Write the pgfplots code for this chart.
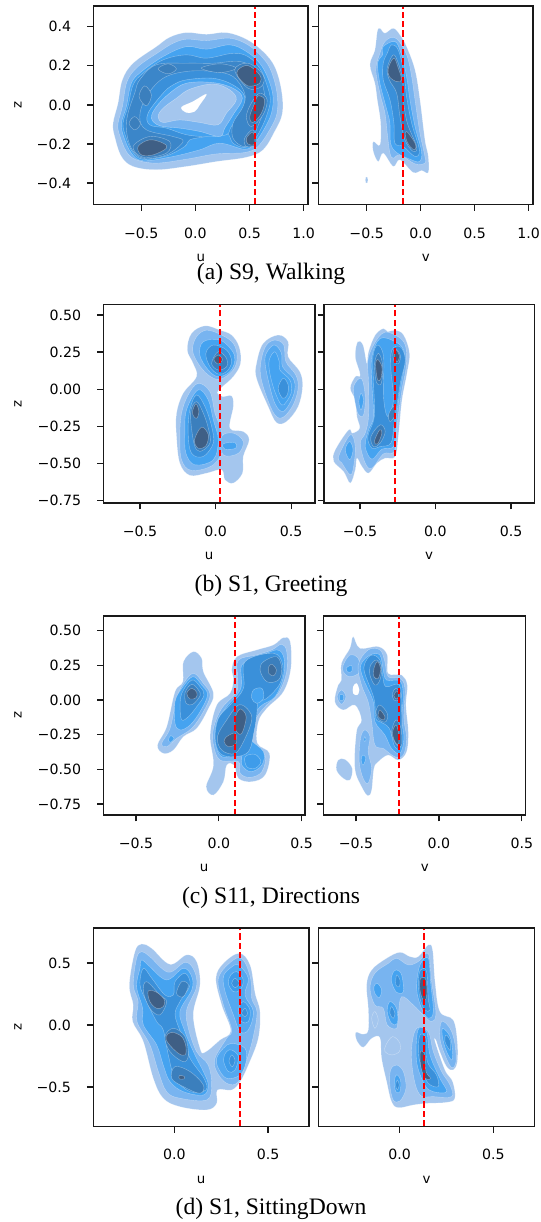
\documentclass[border=0pt]{standalone}
\usepackage{fontspec}
\setmainfont{Liberation Serif}
\newfontfamily\dv{DejaVu Sans}
\usepackage{pgfplots}
\pgfplotsset{compat=1.18}
\definecolor{ca}{HTML}{A4C6EE}
\definecolor{cb}{HTML}{78B4F0}
\definecolor{cc}{HTML}{45A3F0}
\definecolor{cd}{HTML}{3E9CEA}
\definecolor{ce}{HTML}{3A90DA}
\definecolor{cf}{HTML}{3B7FBD}
\definecolor{cg}{HTML}{3F5F85}
\newcommand\lv[2]{\addplot[smooth cycle,tension=.6,fill=#1,draw=white,draw opacity=.4,line width=.3pt] coordinates {#2};}
\newcommand\rl[3]{\addplot[color={rgb,255:red,255;green,0;blue,0},line width=1.5pt,dash pattern=on 4.6pt off 2.4pt] coordinates {(#1,#2)(#1,#3)};}
\pgfplotsset{pan/.style={scale only axis,axis on top,
  axis line style={line width=1.05pt,black!90},
  tick align=outside,tick pos=lower,major tick length=4.8pt,
  every tick/.style={line width=1pt,black!90},
  tick label style={font=\dv\fontsize{10.6}{12}\selectfont},
  xticklabel style={yshift=-9pt},
  yticklabel style={xshift=-8.5pt},
  xlabel style={font=\dv\fontsize{10}{12}\selectfont,at={(axis description cs:.5,0)},anchor=center,yshift=-40pt},
  ylabel style={font=\dv\fontsize{10}{12}\selectfont,at={(axis description cs:0,.5)},anchor=center}}}
\begin{document}
\begin{tikzpicture}
\path[use as bounding box] (0,0) rectangle (405pt,916.5pt);
% ---------- (a) left
\begin{axis}[pan,at={(70.1pt,763.1pt)},anchor=south west,width=160.9pt,height=148.9pt,
 xmin=-.941,xmax=1.04,ymin=-.51,ymax=.506,xtick={-.5,0,.5,1},xticklabels={−0.5,0.0,0.5,1.0},
 ytick={-.4,-.2,0,.2,.4},yticklabels={−0.4,−0.2,0.0,0.2,0.4},xlabel={u},ylabel={z},ylabel style={yshift=56.6pt}]
\lv{ca}{(-.083,.37)(.102,.361)(.286,.37)(.471,.336)(.625,.273)(.732,.196)(.794,.077)(.803,-.043)(.732,-.136)(.625,-.23)(.471,-.268)(.194,-.29)(-.083,-.315)(-.36,-.332)(-.575,-.315)(-.683,-.264)(-.745,-.162)(-.76,-.094)(-.714,.009)(-.674,.128)(-.575,.213)(-.36,.298)(-.237,.346)}
\lv{cb}{(-.083,.336)(.102,.329)(.317,.341)(.486,.307)(.625,.239)(.702,.17)(.754,.06)(.754,-.043)(.686,-.128)(.578,-.213)(.455,-.244)(.194,-.251)(-.083,-.278)(-.36,-.298)(-.545,-.281)(-.637,-.239)(-.705,-.145)(-.714,-.094)(-.674,-.009)(-.631,.119)(-.529,.196)(-.329,.273)(-.206,.315)}
\lv{cc}{(-.083,.298)(.102,.285)(.317,.307)(.471,.273)(.594,.213)(.671,.136)(.717,.043)(.702,-.043)(.64,-.119)(.548,-.196)(.455,-.227)(.225,-.196)(.04,-.23)(-.206,-.264)(-.483,-.286)(-.591,-.247)(-.662,-.162)(-.683,-.094)(-.637,-.009)(-.591,.111)(-.498,.17)(-.298,.247)}
\lv{ce}{(-.083,.256)(.102,.239)(.348,.264)(.486,.247)(.594,.188)(.655,.111)(.692,.026)(.655,-.06)(.594,-.136)(.532,-.188)(.455,-.218)(.348,-.196)(.286,-.145)(.102,-.162)(-.052,-.179)(-.098,-.213)(-.268,-.261)(-.483,-.278)(-.582,-.239)(-.643,-.162)(-.668,-.094)(-.622,-.009)(-.575,.102)(-.483,.162)(-.298,.23)}
\lv{cc}{(-.083,.128)(.163,.136)(.348,.102)(.455,.043)(.425,-.043)(.332,-.111)(.286,-.153)(.102,-.162)(-.083,-.153)(-.268,-.119)(-.422,-.102)(-.437,-.043)(-.298,.06)(-.206,.102)}
\lv{cb}{(-.083,.111)(.163,.114)(.348,.085)(.434,.034)(.348,-.051)(.271,-.119)(.225,-.162)(.04,-.136)(-.145,-.119)(-.329,-.107)(-.406,-.068)(-.36,-.009)(-.237,.06)}
\lv{ca}{(-.052,.08)(.163,.107)(.317,.077)(.378,.026)(.286,-.043)(.209,-.102)(.04,-.09)(-.145,-.077)(-.298,-.09)(-.345,-.06)(-.298,-.017)(-.175,.034)}
\lv{white}{(-.129,-.012)(-.022,.017)(.102,.055)(.04,0)(-.006,-.034)(-.083,-.039)}
\lv{cf!60!ce}{(-.514,.128)(-.36,.205)(-.083,.213)(.163,.213)(.409,.222)(.563,.179)(.625,.094)(.64,-.009)(.563,-.128)(.517,-.196)(.44,-.213)(.348,-.171)(.348,-.094)(.44,-.009)(.455,.06)(.348,.145)(.163,.171)(-.083,.171)(-.298,.136)(-.452,.043)(-.514,-.06)(-.452,-.128)(-.206,-.162)(-.114,-.188)(-.268,-.256)(-.483,-.273)(-.591,-.222)(-.637,-.128)(-.622,-.043)(-.56,.06)}
\lv{cf}{(-.345,.184)(-.252,.21)(-.175,.184)(-.252,.159)}
\lv{cf}{(-.52,.043)(-.468,.097)(-.406,.051)(-.452,-.005)}
\lv{cf}{(-.612,-.094)(-.56,-.06)(-.508,-.097)(-.56,-.128)}
\lv{cf}{(.055,.188)(.225,.21)(.378,.188)(.225,.165)}
\lv{cf}{(-.575,-.213)(-.422,-.162)(-.237,-.188)(-.268,-.247)(-.483,-.268)}
\lv{cf}{(.363,.179)(.486,.213)(.625,.153)(.609,.094)(.486,.085)}
\lv{cf}{(.594,.06)(.662,.026)(.625,-.051)(.517,-.111)(.471,-.06)(.517,.009)}
\lv{cf}{(.455,-.171)(.532,-.128)(.563,-.2)(.471,-.213)}
\lv{cg}{(-.529,-.213)(-.422,-.179)(-.298,-.196)(-.268,-.222)(-.391,-.256)(-.498,-.256)}
\lv{cg}{(.394,.179)(.486,.201)(.594,.153)(.594,.111)(.486,.097)(.394,.145)}
\lv{cg}{(.578,.046)(.64,.026)(.609,-.043)(.532,-.09)(.502,-.06)(.548,.009)}
\lv{cg}{(.471,-.171)(.532,-.14)(.548,-.2)(.486,-.2)}
\rl{.548}{-.51}{.506}
\end{axis}
% ---------- (a) right
\begin{axis}[pan,at={(239pt,763.1pt)},anchor=south west,width=160.7pt,height=148.9pt,
 xmin=-.944,xmax=1.04,ymin=-.51,ymax=.506,xtick={-.5,0,.5,1},xticklabels={−0.5,0.0,0.5,1.0},
 ytick={-.4,-.2,0,.2,.4},yticklabels={},xlabel={v}]
\lv{ca}{(-.377,.392)(-.33,.367)(-.253,.392)(-.191,.358)(-.13,.298)(-.052,.179)(-.006,.026)(.04,-.179)(.071,-.264)(.071,-.346)(.009,-.336)(-.068,-.346)(-.191,-.281)(-.253,-.315)(-.346,-.247)(-.392,-.29)(-.438,-.239)(-.438,-.188)(-.377,-.205)(-.37,-.094)(-.401,.026)(-.423,.111)(-.469,.205)(-.423,.281)(-.401,.375)}
\lv{ca}{(-.509,-.372)(-.491,-.372)(-.491,-.397)(-.509,-.397)}
\lv{cb}{(-.33,.324)(-.253,.346)(-.191,.319)(-.123,.247)(-.083,.145)(-.052,.026)(-.006,-.145)(.04,-.264)(.04,-.298)(-.052,-.302)(-.191,-.256)(-.253,-.273)(-.284,-.247)(-.309,-.145)(-.33,-.043)(-.377,.06)(-.414,.179)(-.377,.264)}
\lv{cc}{(-.346,.298)(-.238,.324)(-.182,.264)(-.13,.145)(-.099,.026)(-.052,-.111)(.009,-.239)(-.012,-.29)(-.099,-.278)(-.222,-.244)(-.278,-.196)(-.284,-.094)(-.321,-.009)(-.377,.111)(-.398,.213)(-.352,.256)}
\lv{ce}{(-.269,.307)(-.207,.281)(-.154,.162)(-.13,.043)(-.083,-.094)(-.012,-.23)(-.052,-.264)(-.16,-.213)(-.238,-.196)(-.247,-.094)(-.284,.026)(-.346,.128)(-.346,.213)(-.309,.264)}
\lv{cf}{(-.253,.256)(-.207,.213)(-.167,.128)(-.16,.026)(-.123,-.094)(-.037,-.213)(-.068,-.239)(-.145,-.179)(-.191,-.06)(-.222,.06)(-.29,.128)(-.309,.188)}
\lv{cg}{(-.247,.239)(-.207,.188)(-.176,.128)(-.222,.119)(-.29,.145)(-.299,.188)}
\lv{cg}{(-.13,-.136)(-.052,-.196)(-.052,-.23)(-.099,-.213)(-.136,-.171)}
\rl{-.16}{-.51}{.506}
\end{axis}
% ---------- (b) left
\begin{axis}[pan,at={(77.6pt,539.25pt)},anchor=south west,width=158.6pt,height=148.7pt,
 xmin=-.741,xmax=.657,ymin=-.765,ymax=.569,xtick={-.5,0,.5},xticklabels={−0.5,0.0,0.5},
 ytick={-.75,-.5,-.25,0,.25,.5},yticklabels={−0.75,−0.50,−0.25,0.00,0.25,0.50},xlabel={u},ylabel={z},ylabel style={yshift=64.1pt}]
\lv{ca}{(-.07,.427)(.029,.398)(.106,.365)(.156,.286)(.165,.174)(.117,.085)(.04,.013)(.011,-.022)(.046,-.049)(.106,-.045)(.117,-.116)(.095,-.262)(.183,-.284)(.222,-.34)(.183,-.452)(.178,-.564)(.117,-.631)(.062,-.609)(.04,-.541)(-.059,-.564)(-.17,-.579)(-.236,-.497)(-.258,-.318)(-.258,-.161)(-.214,-.027)(-.126,.085)(-.148,.174)(-.187,.264)(-.159,.376)}
\lv{cb}{(-.059,.398)(.04,.365)(.117,.309)(.143,.219)(.117,.13)(.029,.067)(-.048,.096)(-.115,.174)(-.152,.264)(-.126,.353)}
\lv{cc}{(-.081,.32)(.029,.331)(.106,.264)(.128,.197)(.095,.119)(.018,.085)(-.048,.13)(-.104,.23)}
\lv{ce}{(-.015,.298)(.073,.264)(.106,.186)(.073,.119)(.018,.103)(-.037,.152)(-.064,.242)}
\lv{cf}{(.018,.253)(.073,.208)(.073,.152)(.018,.13)(-.026,.174)}
\lv{cg}{(.018,.23)(.046,.201)(.018,.17)(-.011,.201)}
\lv{cb}{(-.115,.04)(-.037,-.016)(-.004,-.161)(.029,-.25)(.055,-.385)(-.015,-.508)(-.159,-.546)(-.225,-.474)(-.236,-.318)(-.225,-.161)(-.181,-.038)}
\lv{cb}{(.04,-.318)(.117,-.295)(.183,-.351)(.15,-.431)(.051,-.441)}
\lv{cc}{(-.115,-.004)(-.048,-.072)(-.015,-.206)(.018,-.34)(-.015,-.474)(-.137,-.508)(-.196,-.43)(-.203,-.295)(-.192,-.139)}
\lv{ce}{(-.126,-.038)(-.07,-.116)(-.026,-.251)(-.015,-.362)(-.081,-.452)(-.159,-.43)(-.181,-.295)(-.17,-.139)}
\lv{cf}{(-.126,-.083)(-.081,-.161)(-.048,-.262)(-.037,-.362)(-.104,-.418)(-.143,-.362)(-.165,-.161)}
\lv{cg}{(-.13,-.098)(-.11,-.15)(-.126,-.195)(-.154,-.161)}
\lv{cg}{(-.093,-.255)(-.048,-.306)(-.064,-.38)(-.115,-.396)(-.139,-.34)}
\lv{cc}{(.051,-.367)(.128,-.358)(.134,-.396)(.062,-.403)}
\lv{ca}{(.414,.365)(.48,.32)(.48,.219)(.557,.119)(.575,.018)(.546,-.116)(.469,-.217)(.403,-.224)(.348,-.116)(.271,.074)(.271,.174)(.315,.309)}
\lv{cb}{(.392,.331)(.451,.298)(.465,.186)(.531,.096)(.546,.007)(.513,-.105)(.447,-.188)(.392,-.172)(.337,-.049)(.297,.096)(.304,.208)(.337,.298)}
\lv{cc!70!cb}{(.392,.298)(.436,.242)(.443,.152)(.513,.074)(.524,-.004)(.491,-.094)(.443,-.15)(.392,-.094)(.348,.063)(.326,.197)(.348,.264)}
\lv{cc}{(.392,.253)(.421,.186)(.425,.13)(.491,.063)(.502,-.016)(.469,-.083)(.436,-.105)(.392,-.016)(.359,.107)(.355,.197)}
\lv{ce}{(.447,.074)(.48,.029)(.474,-.038)(.443,-.06)(.414,.007)}
\rl{.028}{-.765}{.569}
\end{axis}
% ---------- (b) right
\begin{axis}[pan,at={(243pt,539.25pt)},anchor=south west,width=157.7pt,height=148.7pt,
 xmin=-.738,xmax=.654,ymin=-.765,ymax=.569,xtick={-.5,0,.5},xticklabels={−0.5,0.0,0.5},
 ytick={-.75,-.5,-.25,0,.25,.5},yticklabels={},xlabel={v}]
\lv{ca}{(-.344,.409)(-.317,.387)(-.267,.398)(-.211,.365)(-.172,.242)(-.189,.107)(-.222,-.072)(-.244,-.295)(-.267,-.452)(-.333,-.463)(-.388,-.497)(-.443,-.564)(-.487,-.519)(-.52,-.463)(-.531,-.541)(-.564,-.631)(-.608,-.553)(-.674,-.485)(-.663,-.407)(-.575,-.273)(-.55,-.295)(-.502,-.262)(-.52,-.183)(-.531,-.072)(-.564,.007)(-.531,.085)(-.498,.096)(-.531,.219)(-.515,.32)(-.48,.298)(-.454,.174)(-.443,.253)(-.399,.365)}
\lv{cb}{(-.355,.374)(-.267,.365)(-.2,.298)(-.194,.152)(-.222,-.004)(-.256,-.251)(-.273,-.418)(-.344,-.434)(-.421,-.53)(-.465,-.497)(-.498,-.363)(-.465,-.295)(-.443,-.183)(-.443,.04)(-.443,.219)}
\lv{cb}{(-.491,.074)(-.465,-.049)(-.476,-.172)(-.509,-.172)(-.531,-.094)(-.542,.018)}
\lv{cb}{(-.564,-.306)(-.531,-.385)(-.542,-.519)(-.564,-.575)(-.619,-.497)(-.641,-.452)}
\lv{cc}{(-.366,.342)(-.267,.32)(-.211,.264)(-.207,.152)(-.238,-.027)(-.267,-.251)(-.278,-.385)(-.355,-.403)(-.421,-.47)(-.465,-.385)(-.443,-.273)(-.41,-.183)(-.421,.04)(-.421,.219)}
\lv{cc}{(-.493,-.027)(-.476,-.072)(-.493,-.139)(-.507,-.083)}
\lv{cc}{(-.568,-.351)(-.546,-.407)(-.568,-.474)(-.597,-.407)}
\lv{ce}{(-.383,.298)(-.344,.219)(-.344,-.049)(-.317,-.183)(-.278,-.072)(-.295,.13)(-.289,.264)(-.233,.286)(-.2,.197)(-.233,.04)(-.273,-.228)(-.295,-.362)(-.366,-.385)(-.421,-.396)(-.448,-.318)(-.405,-.183)(-.41,.04)(-.414,.219)}
\lv{cf}{(-.377,.242)(-.35,.163)(-.359,.04)(-.392,.051)(-.403,.174)}
\lv{cf}{(-.267,.275)(-.233,.23)(-.244,.174)(-.273,.186)(-.282,.242)}
\lv{cf}{(-.366,-.239)(-.333,-.284)(-.366,-.362)(-.41,-.385)(-.427,-.318)}
\lv{cf}{(-.278,-.116)(-.267,-.172)(-.3,-.217)(-.311,-.172)}
\lv{cg}{(-.383,.201)(-.355,.152)(-.361,.074)(-.383,.063)(-.396,.163)}
\lv{cg}{(-.26,.264)(-.238,.219)(-.256,.186)(-.273,.23)}
\lv{cg}{(-.37,-.273)(-.355,-.295)(-.383,-.367)(-.405,-.351)}
\rl{-.267}{-.765}{.569}
\end{axis}
% ---------- (c) left
\begin{axis}[pan,at={(77.6pt,305.25pt)},anchor=south west,width=151.1pt,height=149.3pt,
 xmin=-.696,xmax=.52,ymin=-.829,ymax=.606,xtick={-.5,0,.5},xticklabels={−0.5,0.0,0.5},
 ytick={-.75,-.5,-.25,0,.25,.5},yticklabels={−0.75,−0.50,−0.25,0.00,0.25,0.50},xlabel={u},ylabel={z},ylabel style={yshift=64.1pt}]
\lv{ca}{(-.153,.349)(-.103,.3)(-.093,.204)(-.032,.048)(-.062,-.06)(-.133,-.204)(-.213,-.264)(-.274,-.361)(-.334,-.385)(-.37,-.325)(-.314,-.192)(-.264,.06)(-.217,.132)(-.213,.276)}
\lv{cb}{(-.153,.192)(-.093,.12)(-.052,.036)(-.093,-.084)(-.163,-.204)(-.254,-.276)(-.314,-.337)(-.344,-.312)(-.294,-.204)(-.254,.012)(-.213,.12)}
\lv{cc}{(-.157,.168)(-.103,.108)(-.068,.036)(-.113,-.084)(-.173,-.18)(-.233,-.216)(-.264,-.168)(-.264,-.012)(-.223,.084)}
\lv{ce}{(-.163,.144)(-.113,.096)(-.089,.036)(-.133,-.048)(-.183,-.12)(-.223,-.144)(-.233,-.06)(-.223,.048)}
\lv{cf}{(-.163,.113)(-.123,.072)(-.113,.031)(-.157,-.031)(-.197,-.024)(-.203,.055)}
\lv{cg}{(-.163,.084)(-.133,.055)(-.137,.017)(-.173,.007)(-.193,.048)}
\lv{cc}{(-.29,-.257)(-.27,-.276)(-.29,-.305)(-.304,-.288)}
\lv{ca}{(.39,.45)(.431,.421)(.435,.228)(.39,.06)(.29,-.06)(.239,-.156)(.233,-.312)(.306,-.385)(.28,-.541)(.199,-.589)(.119,-.565)(.093,-.469)(.048,-.469)(.028,-.589)(-.032,-.685)(-.076,-.625)(-.032,-.469)(-.052,-.252)(-.012,-.036)(.068,.048)(.089,.156)(.078,.216)(.109,.312)(.229,.361)(.33,.397)}
\lv{cb}{(.38,.402)(.41,.349)(.41,.204)(.36,.048)(.27,-.06)(.213,-.168)(.209,-.325)(.28,-.397)(.26,-.517)(.189,-.558)(.129,-.529)(.119,-.445)(.008,-.433)(-.032,-.325)(-.032,-.204)(.018,-.06)(.109,.06)(.113,.168)(.119,.288)(.229,.325)(.32,.361)}
\lv{cc}{(.35,.361)(.394,.3)(.39,.168)(.34,.024)(.249,-.048)(.193,-.156)(.189,-.276)(.27,-.373)(.26,-.469)(.193,-.517)(.139,-.469)(.129,-.397)(.018,-.409)(-.022,-.3)(-.012,-.156)(.048,-.048)(.133,.084)(.139,.252)(.229,.3)}
\lv{ce}{(.159,.276)(.33,.337)(.386,.252)(.37,.12)(.29,.012)(.239,-.012)(.229,-.108)(.213,-.228)(.179,-.373)(.089,-.409)(.008,-.385)(-.022,-.276)(-.002,-.132)(.068,-.036)(.149,.084)}
\lv{cc}{(.209,.072)(.26,.084)(.27,.012)(.229,-.024)(.199,.012)}
\lv{cd}{(.159,-.409)(.219,-.392)(.254,-.445)(.219,-.493)(.169,-.481)}
\lv{cf}{(.27,.276)(.35,.312)(.38,.228)(.36,.144)(.29,.132)(.249,.216)}
\lv{cg!60!cf}{(.322,.257)(.348,.216)(.332,.175)(.302,.192)(.302,.24)}
\lv{cf}{(.119,-.036)(.179,-.072)(.199,-.144)(.159,-.276)(.099,-.385)(.018,-.361)(-.008,-.264)(.048,-.144)}
\lv{cg}{(.129,-.065)(.165,-.12)(.139,-.24)(.105,-.224)(.099,-.132)}
\lv{cg}{(.048,-.264)(.099,-.24)(.105,-.312)(.058,-.337)(.032,-.3)}
\rl{.1}{-.829}{.606}
\end{axis}
% ---------- (c) right
\begin{axis}[pan,at={(242.8pt,305.25pt)},anchor=south west,width=151.5pt,height=149.3pt,
 xmin=-.695,xmax=.524,ymin=-.829,ymax=.606,xtick={-.5,0,.5},xticklabels={−0.5,0.0,0.5},
 ytick={-.75,-.5,-.25,0,.25,.5},yticklabels={},xlabel={v}]
\lv{ca}{(-.517,.457)(-.477,.373)(-.366,.385)(-.312,.325)(-.306,.192)(-.225,.18)(-.191,.108)(-.199,-.036)(-.185,-.228)(-.195,-.373)(-.245,-.433)(-.306,-.397)(-.366,-.445)(-.392,-.493)(-.406,-.649)(-.427,-.69)(-.461,-.637)(-.507,-.493)(-.497,-.228)(-.467,-.144)(-.507,-.036)(-.577,-.072)(-.628,-.012)(-.608,.108)(-.588,.144)(-.588,.264)(-.537,.373)}
\lv{ca}{(-.608,-.433)(-.567,-.428)(-.523,-.493)(-.537,-.577)(-.577,-.565)(-.618,-.505)}
\lv{white}{(-.517,.096)(-.497,.12)(-.481,.072)(-.493,.036)(-.517,.048)}
\lv{cb}{(-.577,.252)(-.537,.324)(-.487,.3)(-.477,.204)(-.537,.168)(-.577,.204)}
\lv{cb}{(-.614,.024)(-.588,.072)(-.561,.024)(-.588,-.031)}
\lv{cb}{(-.447,-.216)(-.416,-.264)(-.427,-.373)(-.406,-.493)(-.427,-.6)(-.457,-.565)(-.481,-.445)(-.473,-.276)}
\lv{cb}{(-.427,.361)(-.356,.361)(-.326,.276)(-.306,.168)(-.235,.156)(-.205,.084)(-.211,-.132)(-.195,-.276)(-.215,-.397)(-.266,-.409)(-.336,-.349)(-.386,-.325)(-.406,-.156)(-.427,-.012)(-.467,.108)(-.487,.252)}
\lv{cc}{(-.416,.324)(-.356,.324)(-.336,.216)(-.316,.144)(-.235,.137)(-.215,.036)(-.225,-.132)(-.211,-.276)(-.235,-.385)(-.286,-.349)(-.326,-.252)(-.386,-.156)(-.396,-.012)(-.457,.156)(-.471,.252)}
\lv{ce}{(-.406,.324)(-.356,.288)(-.34,.18)(-.32,.096)(-.239,.108)(-.225,-.06)(-.229,-.325)(-.266,-.337)(-.3,-.204)(-.356,-.156)(-.38,-.132)(-.392,.012)(-.447,.192)(-.447,.264)}
\lv{cf}{(-.376,.288)(-.346,.24)(-.356,.144)(-.386,.108)(-.416,.18)(-.412,.252)}
\lv{cf}{(-.26,.084)(-.231,.048)(-.239,0)(-.272,0)(-.28,.048)}
\lv{cf}{(-.356,-.036)(-.312,-.096)(-.32,-.156)(-.36,-.144)(-.38,-.084)}
\lv{cf}{(-.26,-.144)(-.229,-.204)(-.225,-.325)(-.254,-.325)(-.286,-.24)}
\lv{cg}{(-.372,.276)(-.352,.228)(-.366,.156)(-.392,.168)(-.392,.228)}
\lv{cg}{(-.254,.065)(-.243,.036)(-.254,.007)(-.272,.031)}
\lv{cg}{(-.356,-.072)(-.326,-.12)(-.336,-.144)(-.366,-.12)}
\lv{cg}{(-.26,-.18)(-.243,-.24)(-.243,-.312)(-.26,-.312)(-.28,-.24)}
\lv{cc}{(-.461,-.397)(-.441,-.416)(-.457,-.469)(-.469,-.433)}
\lv{cc}{(-.447,-.264)(-.44,-.288)(-.447,-.3)(-.453,-.288)}
\lv{cc}{(-.557,.233)(-.527,.248)(-.527,.204)(-.553,.204)}
\lv{cc}{(-.598,.036)(-.577,.036)(-.577,0)(-.598,0)}
\rl{-.24}{-.829}{.606}
\end{axis}
% ---------- (d) left
\begin{axis}[pan,at={(70pt,71.8pt)},anchor=south west,width=161.8pt,height=148.7pt,
 xmin=-.432,xmax=.719,ymin=-.817,ymax=.782,xtick={0,.5},xticklabels={0.0,0.5},
 ytick={-.5,0,.5},yticklabels={−0.5,0.0,0.5},xlabel={u},ylabel={z},ylabel style={yshift=56.6pt}]
\lv{ca}{(-.174,.653)(-.121,.618)(-.023,.489)(.066,.565)(.119,.511)(.137,.323)(.101,.081)(.137,-.188)(.164,-.22)(.244,-.121)(.301,-.048)(.253,.161)(.222,.376)(.262,.497)(.347,.578)(.404,.484)(.431,.255)(.457,.108)(.448,-.108)(.395,-.323)(.351,-.457)(.306,-.524)(.23,-.524)(.226,-.632)(.173,-.685)(.03,-.659)(-.059,-.591)(-.112,-.43)(-.165,-.134)(-.222,.027)(-.219,.161)(-.24,.323)(-.21,.591)}
\lv{cb}{(-.174,.591)(-.131,.551)(-.032,.425)(.057,.505)(.105,.443)(.119,.309)(.066,.121)(.075,-.027)(.119,-.215)(.181,-.323)(.199,-.484)(.173,-.605)(.03,-.591)(-.041,-.538)(-.085,-.376)(-.13,-.161)(-.199,.027)(-.193,.188)(-.219,.323)(-.201,.538)}
\lv{cc}{(-.174,.524)(-.131,.47)(-.041,.363)(.048,.457)(.093,.39)(.093,.282)(.03,.108)(.057,-.054)(.11,-.242)(.155,-.376)(.181,-.484)(.155,-.565)(.048,-.538)(-.023,-.457)(-.059,-.323)(-.094,-.161)(-.165,0)(-.169,.134)(-.201,.309)(-.183,.457)}
\lv{ce}{(-.165,.457)(-.12,.376)(-.05,.242)(-.005,.242)(.004,.349)(.057,.417)(.084,.323)(.03,.188)(.004,.081)(.039,-.081)(.084,-.269)(.158,-.43)(.169,-.524)(.084,-.538)(.004,-.43)(-.032,-.242)(-.059,-.04)(-.094,.027)(-.148,.188)(-.183,.323)}
\lv{cf}{(-.148,.349)(-.077,.242)(-.041,.188)(-.077,.081)(-.13,.134)(-.165,.269)}
\lv{cf}{(-.005,-.027)(.057,-.094)(.075,-.242)(.048,-.296)(-.023,-.215)(-.05,-.094)}
\lv{cf}{(.004,-.336)(.084,-.376)(.155,-.484)(.137,-.551)(.048,-.497)(-.014,-.43)}
\lv{cf}{(.039,.349)(.075,.323)(.048,.228)(.012,.255)}
\lv{cg}{(-.139,.274)(-.094,.263)(-.053,.202)(-.059,.148)(-.094,.134)(-.13,.188)}
\lv{cg}{(-.014,-.059)(.039,-.094)(.062,-.175)(.057,-.242)(.021,-.228)(-.032,-.148)(-.044,-.094)}
\lv{cg}{(.027,-.409)(.052,-.414)(.052,-.435)(.027,-.435)}
\lv{cb}{(.315,.524)(.368,.524)(.407,.376)(.413,.215)(.441,.108)(.427,-.054)(.395,-.242)(.342,-.457)(.279,-.47)(.226,-.376)(.217,-.269)(.279,-.108)(.306,-.04)(.262,.161)(.235,.376)}
\lv{cc!70!cb}{(.342,.484)(.395,.376)(.377,.242)(.422,.108)(.395,-.04)(.351,-.054)(.315,.081)(.271,.269)(.262,.39)(.297,.457)}
\lv{cc!70!cb}{(.306,-.148)(.377,-.188)(.383,-.296)(.351,-.403)(.279,-.43)(.235,-.349)(.226,-.269)(.262,-.188)}
\lv{cd}{(.333,.43)(.368,.363)(.351,.282)(.315,.269)(.288,.336)(.301,.403)}
\lv{cd}{(.368,.188)(.404,.121)(.395,.027)(.359,.027)(.342,.121)}
\lv{cd}{(.306,-.202)(.342,-.255)(.324,-.363)(.288,-.376)(.262,-.282)(.279,-.215)}
\lv{ce}{(.324,.376)(.347,.336)(.324,.301)(.306,.336)}
\lv{ce}{(.306,-.242)(.324,-.282)(.31,-.336)(.292,-.296)}
\lv{ce}{(.377,.134)(.391,.094)(.377,.067)(.359,.094)}
\rl{.351}{-.817}{.782}
\end{axis}
% ---------- (d) right
\begin{axis}[pan,at={(239pt,71.8pt)},anchor=south west,width=162pt,height=148.7pt,
 xmin=-.432,xmax=.721,ymin=-.817,ymax=.782,xtick={0,.5},xticklabels={0.0,0.5},
 ytick={-.5,0,.5},yticklabels={},xlabel={v}]
\lv{ca}{(.002,.586)(.055,.551)(.1,.551)(.153,.645)(.176,.605)(.189,.349)(.215,.108)(.286,.04)(.308,-.134)(.308,-.296)(.286,-.363)(.251,-.336)(.215,-.215)(.194,-.121)(.189,-.134)(.242,-.363)(.283,-.457)(.295,-.591)(.251,-.624)(.144,-.632)(.073,-.645)(-.007,-.667)(-.043,-.618)(-.069,-.457)(-.096,-.269)(-.105,-.102)(-.149,-.108)(-.194,-.18)(-.23,-.121)(-.233,-.059)(-.194,-.075)(-.167,-.04)(-.167,.134)(-.176,.323)(-.149,.444)(-.069,.538)}
\lv{cb}{(-.016,.538)(.046,.484)(.1,.511)(.153,.575)(.171,.349)(.194,.094)(.171,.027)(.126,.081)(.073,.161)(.011,.228)(-.007,.081)(-.016,-.027)(-.066,0)(-.087,.134)(-.132,.161)(-.158,.296)(-.132,.417)(-.06,.497)}
\lv{cb}{(.091,-.027)(.153,-.054)(.18,-.215)(.224,-.376)(.269,-.484)(.278,-.578)(.18,-.578)(.109,-.565)(.073,-.403)(.064,-.188)}
\lv{cb}{(.224,.027)(.269,-.027)(.295,-.148)(.301,-.296)(.278,-.344)(.242,-.242)(.215,-.108)}
\lv{cb}{(-.016,-.323)(.02,-.376)(.034,-.511)(.002,-.613)(-.034,-.605)(-.052,-.484)(-.048,-.363)}
\lv{ca}{(-.073,-.161)(-.037,-.094)(.002,-.148)(-.002,-.215)(-.043,-.242)(-.078,-.215)}
\lv{ca}{(-.149,.054)(-.132,.108)(-.114,.04)(-.132,-.027)}
\lv{cc}{(-.016,.444)(.011,.403)(.02,.269)(-.016,.263)(-.043,.349)(-.037,.417)}
\lv{cc}{(-.052,.188)(-.016,.134)(-.012,.013)(-.043,.013)(-.066,.108)}
\lv{cc}{(-.119,.336)(-.096,.282)(-.109,.22)(-.132,.255)(-.137,.309)}
\lv{cc}{(.109,.484)(.153,.538)(.165,.349)(.18,.108)(.153,.054)(.117,.134)(.091,.296)}
\lv{cc}{(.098,-.04)(.144,-.054)(.162,-.242)(.215,-.43)(.251,-.538)(.18,-.538)(.135,-.484)(.091,-.296)}
\lv{cc}{(.23,-.027)(.269,-.094)(.283,-.215)(.278,-.282)(.251,-.215)(.23,-.108)}
\lv{cc}{(-.016,-.403)(.005,-.444)(.002,-.538)(-.02,-.538)(-.028,-.457)}
\lv{ce}{(.112,.444)(.144,.43)(.153,.215)(.162,.121)(.135,.121)(.109,.215)(.1,.349)}
\lv{ce}{(.109,-.081)(.141,-.108)(.148,-.296)(.197,-.403)(.206,-.497)(.153,-.47)(.117,-.349)(.1,-.215)}
\lv{ce}{(-.016,.403)(.002,.363)(-.002,.309)(-.02,.323)}
\lv{ce}{(-.043,.148)(-.025,.094)(-.034,.054)(-.052,.094)}
\lv{ce}{(-.012,-.444)(-.002,-.484)(-.012,-.524)(-.021,-.484)}
\lv{ce}{(.247,-.081)(.269,-.121)(.272,-.202)(.26,-.188)(.242,-.134)}
\lv{cg}{(.112,.376)(.141,.363)(.144,.228)(.126,.202)(.109,.282)}
\lv{cg}{(.112,-.215)(.135,-.242)(.141,-.376)(.165,-.43)(.135,-.43)(.112,-.323)}
\rl{.13}{-.817}{.782}
\end{axis}
\node at (203.3pt,711pt) {\fontsize{17.7}{20}\selectfont (a) S9, Walking};
\node at (203.3pt,476.8pt) {\fontsize{17.7}{20}\selectfont (b) S1, Greeting};
\node at (203.3pt,242.8pt) {\fontsize{17.7}{20}\selectfont (c) S11, Directions};
\node at (203.3pt,9.8pt) {\fontsize{17.7}{20}\selectfont (d) S1, SittingDown};
\end{tikzpicture}
\end{document}
